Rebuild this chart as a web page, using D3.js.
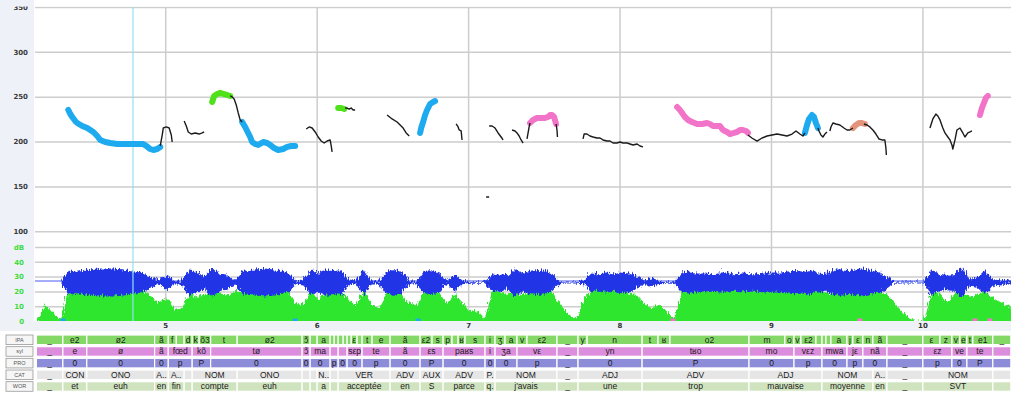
<!DOCTYPE html>
<html><head><meta charset="utf-8">
<script src="https://cdn.jsdelivr.net/npm/d3@7"></script>
<style>
html,body{margin:0;padding:0;background:#fff;}
svg{display:block;font-family:"Liberation Sans",Arial,sans-serif;}
</style></head><body>
<svg id="chart" width="1011" height="396"></svg>
<script>
// ---- axis ticks ----
const pitchTicks = [100, 150, 200, 250, 300, 350];
const dbTicks = [0, 10, 20, 30, 40, 50];
const dbTickLabels = ["0", "10", "20", "30", "40", "dB"];
const timeTicks = [5, 6, 7, 8, 9, 10];
const cursorTime = 4.787;

// ---- intensity (dB) and waveform envelope, sampled every 50 ms from 4.15 s ----
const sampleStart = 4.15;
const sampleStep = 0.05;
const intensityDb = [
  3, 12, 6, 2,
  21, 21, 21, 21, 22, 22, 22, 22, 22, 21, 21,
  18, 13, 17, 9, 10,
  20, 17, 19, 21, 20, 18, 21,
  21, 22, 22, 22, 22, 21, 21,
  13, 12,
  20, 16, 20, 19, 21,
  16, 12,
  22,
  12, 10,
  19, 21, 20,
  13, 12,
  20, 21, 20,
  13,
  19,
  14, 7, 8, 3,
  22, 21, 19, 22, 18, 21, 22, 22, 20,
  12, 6, 2,
  14, 21, 22, 22, 22, 21, 20, 19,
  13, 10, 12, 8, 2,
  22, 22, 22, 22, 22, 21, 22, 22, 22, 21, 22, 22, 22, 22, 22, 21, 22, 22, 22, 20, 19, 20, 21, 22, 22, 21, 21, 19,
  14, 8, 3, 1, 1,
  21, 20, 14, 19, 21, 17, 19, 21, 17, 14, 11, 10
];
const waveAmp = [
  0, 0, 0, 0,
  .7, .7, .75, .8, .85, .85, .85, .8, .75, .7, .6,
  .3, .15, .45, .1, .1,
  .8, .6, .4, .9, .5, .4, .15,
  .7, .75, .8, .85, .8, .75, .6,
  .1, .15,
  .75, .6, .8, .75, .8,
  .15, .1,
  .8,
  .1, .1,
  .7, .8, .7,
  .1, .1,
  .7, .75, .6,
  .1,
  .55,
  .15, .05, .05, .05,
  .5, .55, .4, .85, .6, .7, .75, .7, .5,
  .05, .03, .03,
  .1, .6, .55, .6, .55, .65, .6, .4,
  .1, .3, .1, .05, .05,
  .6, .65, .6, .6, .55, .6, .6, .55, .6, .55, .55, .6, .6, .6, .65, .7, .65, .75, .6, .55, .75, .8, .75, .8, .85, .75, .65, .4,
  .05, .03, .03, .03, .03,
  .8, .5, .45, .5, 1, .2, .3, .75, .25, .15, .1, .1
];

// ---- raw F0 track segments [time s, Hz] ----
const f0Raw = [
  [[4.967,195.1],[4.980,207.3],[4.987,215.1],[5.007,216.3],[5.026,215.1],[5.040,207.3],[5.046,199.5]],
  [[5.125,222.9],[5.139,217.4],[5.152,210.7],[5.172,208.4],[5.198,209.6],[5.224,208.4],[5.244,209.6],[5.257,210.7]],
  [[5.429,250.8],[5.442,249.7],[5.455,247.5],[5.469,240.8],[5.482,231.9],[5.495,224.1],[5.508,221.8]],
  [[5.931,214.0],[5.950,216.3],[5.970,215.1],[5.990,210.7],[6.010,205.1],[6.030,200.6],[6.050,198.4],[6.069,200.6],[6.089,201.8],[6.096,195.1],[6.102,188.4]],
  [[6.188,237.4],[6.201,237.4],[6.214,236.3],[6.228,237.4],[6.241,235.2],[6.254,235.2]],
  [[6.465,229.6],[6.498,225.2],[6.531,221.8],[6.551,218.5],[6.571,215.1],[6.591,209.6],[6.611,206.2]],
  [[6.921,219.6],[6.934,216.3],[6.941,212.9],[6.954,211.8],[6.960,201.8]],
  [[7.119,138.2],[7.139,138.2]],
  [[7.139,217.4],[7.158,217.4],[7.178,215.1],[7.198,209.6],[7.218,205.1],[7.231,201.8]],
  [[7.290,212.9],[7.310,211.8],[7.323,209.6],[7.337,206.2],[7.350,201.8],[7.363,198.4]],
  [[7.389,202.9],[7.396,209.6],[7.403,216.3],[7.409,220.7]],
  [[7.581,219.6],[7.587,212.9],[7.590,205.1]],
  [[7.759,202.9],[7.766,208.4],[7.785,208.4],[7.805,206.2],[7.825,205.1],[7.851,204.0],[7.871,204.0],[7.891,201.8],[7.917,200.6],[7.937,200.6],[7.957,198.4],[7.983,198.4],[8.003,199.5],[8.023,198.4],[8.050,198.4],[8.069,197.3],[8.089,196.2],[8.116,197.3],[8.135,195.1],[8.155,194.0]],
  [[8.848,207.3],[8.874,204.0],[8.908,200.6],[8.941,204.0],[8.974,206.2],[9.007,207.3],[9.040,208.4],[9.073,207.3],[9.106,206.2],[9.139,208.4],[9.165,211.8],[9.191,208.4],[9.211,206.2],[9.224,209.6]],
  [[9.310,215.1],[9.317,211.8],[9.330,207.3],[9.343,205.1],[9.356,208.4],[9.370,210.7]],
  [[9.389,211.8],[9.396,216.3],[9.409,220.7],[9.429,219.6],[9.455,218.5],[9.482,215.1],[9.502,212.9],[9.521,212.9],[9.541,215.1]],
  [[9.614,219.6],[9.634,218.5],[9.653,216.3],[9.673,212.9],[9.693,208.4],[9.713,202.9],[9.733,201.8],[9.752,201.8],[9.759,192.8],[9.762,185.0]],
  [[10.050,215.1],[10.069,225.2],[10.089,230.7],[10.102,228.5],[10.116,224.1],[10.135,215.1],[10.149,209.6],[10.168,205.1],[10.182,201.8],[10.195,196.2],[10.201,191.7],[10.215,201.8],[10.228,212.9],[10.248,215.1],[10.267,209.6],[10.281,205.1],[10.300,209.6],[10.314,210.7],[10.327,211.8]]
];

// ---- stylised pitch movements, by movement class ----
const f0Class = ["B", "G", "B", "G", "B", "P", "P", "B", "S", "P"];
const f0Stylised = [
  [[4.360,235.2],[4.373,230.7],[4.386,227.4],[4.406,222.9],[4.419,220.7],[4.452,217.4],[4.485,215.1],[4.505,212.9],[4.525,210.7],[4.551,206.2],[4.571,201.8],[4.604,199.5],[4.637,198.4],[4.683,197.3],[4.723,197.3],[4.789,197.3],[4.855,197.3],[4.875,195.1],[4.901,191.7],[4.921,190.6],[4.947,191.7],[4.967,194.0]],
  [[5.310,244.1],[5.323,250.8],[5.343,253.0],[5.363,254.2],[5.389,253.0],[5.409,251.9],[5.429,250.8]],
  [[5.508,221.8],[5.528,216.3],[5.541,211.8],[5.561,205.1],[5.574,199.5],[5.594,197.3],[5.614,196.2],[5.647,199.5],[5.673,198.4],[5.693,196.2],[5.719,192.8],[5.746,190.6],[5.779,191.7],[5.805,194.0],[5.832,195.1],[5.858,195.1]],
  [[6.142,237.4],[6.162,237.4],[6.182,236.3]],
  [[6.683,209.6],[6.690,215.1],[6.703,221.8],[6.716,229.6],[6.729,235.2],[6.749,241.9],[6.769,244.1],[6.782,245.2]],
  [[7.409,220.7],[7.429,224.1],[7.455,226.3],[7.482,226.3],[7.508,226.3],[7.528,227.4],[7.541,229.6],[7.554,229.6],[7.568,227.4],[7.581,219.6]],
  [[8.380,238.5],[8.399,235.2],[8.413,231.9],[8.432,227.4],[8.452,224.1],[8.479,221.8],[8.512,219.6],[8.545,219.6],[8.578,220.7],[8.597,219.6],[8.617,217.4],[8.644,217.4],[8.663,217.4],[8.683,212.9],[8.710,210.7],[8.729,208.4],[8.756,209.6],[8.776,210.7],[8.795,212.9],[8.815,212.9],[8.835,211.8],[8.848,209.6]],
  [[9.224,209.6],[9.238,218.5],[9.251,225.2],[9.271,229.6],[9.284,227.4],[9.297,220.7],[9.310,215.1]],
  [[9.541,215.1],[9.561,218.5],[9.581,220.7],[9.601,220.7],[9.620,219.6]],
  [[10.380,229.6],[10.393,237.4],[10.406,243.0],[10.419,248.6],[10.432,250.8]]
];
// boundary markers on the time axis
const markTimes = [4.325, 5.858, 6.670, 8.353, 9.587, 10.347, 10.446];
const markClass = ["B", "B", "B", "P", "P", "P", "P"];

// ---- annotation tiers: [label, start, end] ----
const tierNames = ["IPA", "syl", "PRO", "CAT", "WOR"];
const ipaTier = [
  ["_",4.149,4.324],["e2",4.324,4.482],["ø2",4.482,4.930],["ã",4.930,5.020],["f",5.020,5.073],["œ",5.073,5.125],["d",5.125,5.178],
  ["k",5.178,5.224],["õ3",5.224,5.300],["t",5.300,5.475],["ø2",5.475,5.904],["ɔ̃",5.904,5.957],["m",5.957,6.003],["a",6.003,6.089],
  ["p",6.089,6.116],["a",6.116,6.142],["a",6.142,6.175],["k",6.175,6.201],["s",6.201,6.228],["ε",6.228,6.267],["p",6.267,6.300],
  ["t",6.300,6.366],["e",6.366,6.485],["ã",6.485,6.683],["ε2",6.683,6.762],["s",6.762,6.835],["p",6.835,6.894],["a",6.894,6.934],
  ["ʁ",6.934,6.980],["s",6.980,7.112],["i",7.112,7.178],["ʒ",7.178,7.244],["a",7.244,7.323],["v",7.323,7.389],["ε2",7.389,7.587],
  ["_",7.587,7.726],["y",7.726,7.786],["n",7.786,8.149],["t",8.149,8.254],["ʁ",8.254,8.333],["o2",8.333,8.855],["m",8.855,9.092],
  ["o",9.092,9.152],["v",9.152,9.198],["ε2",9.198,9.297],["z",9.297,9.337],["m",9.337,9.363],["w",9.363,9.396],["a",9.396,9.502],
  ["j",9.502,9.541],["ε",9.541,9.607],["n",9.607,9.673],["ã",9.673,9.766],["_",9.766,10.003],["ε",10.003,10.116],["z",10.116,10.195],
  ["v",10.195,10.248],["e",10.248,10.294],["t",10.294,10.333],["e1",10.333,10.465],["_",10.465,10.584]
];
const sylTier = [
  ["_",4.149,4.324],["e",4.324,4.482],["ø",4.482,4.930],["ã",4.930,5.020],["fœd",5.020,5.178],["kõ",5.178,5.300],["tø",5.300,5.904],
  ["ɔ̃",5.904,5.957],["ma",5.957,6.089],["pa",6.089,6.142],["ak",6.142,6.201],["sεp",6.201,6.300],["te",6.300,6.485],["ã",6.485,6.683],
  ["εs",6.683,6.835],["paʁs",6.835,7.112],["i",7.112,7.178],["ʒa",7.178,7.323],["vε",7.323,7.587],["_",7.587,7.726],["yn",7.726,8.149],
  ["tʁo",8.149,8.855],["mo",8.855,9.152],["vεz",9.152,9.337],["mwa",9.337,9.502],["jε",9.502,9.607],["nã",9.607,9.766],["_",9.766,10.003],
  ["εz",10.003,10.195],["ve",10.195,10.294],["te",10.294,10.465],["",10.465,10.584]
];
const proTier = [
  ["_",4.149,4.324],["0",4.324,4.482],["0",4.482,4.930],["0",4.930,5.020],["p",5.020,5.178],["P",5.178,5.300],["0",5.300,5.904],
  ["0",5.904,5.957],["0",5.957,6.089],["p",6.089,6.142],["0",6.142,6.201],["0",6.201,6.300],["p",6.300,6.485],["0",6.485,6.683],
  ["P",6.683,6.835],["0",6.835,7.112],["0",7.112,7.178],["0",7.178,7.323],["p",7.323,7.587],["_",7.587,7.726],["0",7.726,8.149],
  ["P",8.149,8.855],["0",8.855,9.152],["p",9.152,9.337],["0",9.337,9.502],["p",9.502,9.607],["0",9.607,9.766],["_",9.766,10.003],
  ["p",10.003,10.195],["0",10.195,10.294],["P",10.294,10.465],["",10.465,10.584]
];
const catTier = [
  ["_",4.149,4.324],["CON",4.324,4.482],["ONO",4.482,4.930],["ADV",4.930,5.020],["ADJ",5.020,5.125],["PRP",5.125,5.178],["NOM",5.178,5.475],
  ["ONO",5.475,5.904],["NOM",5.904,5.957],["PRO",5.957,6.003],["NOM",6.003,6.089],["NEG",6.089,6.142],["VER",6.142,6.485],["ADV",6.485,6.683],
  ["AUX",6.683,6.835],["ADV",6.835,7.112],["PRP",7.112,7.178],["NOM",7.178,7.587],["_",7.587,7.726],["ADJ",7.726,8.149],["ADV",8.149,8.855],
  ["ADJ",8.855,9.337],["NOM",9.337,9.673],["ADJ",9.673,9.766],["_",9.766,10.003],["NOM",10.003,10.465],["",10.465,10.584]
];
const worTier = [
  ["_",4.149,4.324],["et",4.324,4.482],["euh",4.482,4.930],["en",4.930,5.020],["fin",5.020,5.125],["de",5.125,5.178],["compte",5.178,5.475],
  ["euh",5.475,5.904],["on",5.904,5.957],["m'",5.957,6.003],["a",6.003,6.089],["pas",6.089,6.142],["acceptée",6.142,6.485],["en",6.485,6.683],
  ["S",6.683,6.835],["parce",6.835,7.112],["que",7.112,7.178],["j'avais",7.178,7.587],["_",7.587,7.726],["une",7.726,8.149],["trop",8.149,8.855],
  ["mauvaise",8.855,9.337],["moyenne",9.337,9.673],["en",9.673,9.766],["_",9.766,10.003],["SVT",10.003,10.465],["",10.465,10.584]
];
const tiers = [ipaTier, sylTier, proTier, catTier, worTier];

// ---- layout ----
const svg = d3.select("#chart");
const W = 1011;
const plotLeft = 35, plotTop = 7, plotBottom = 321;

const x = d3.scaleLinear().domain([4.14, 10.585]).range([plotLeft, W]);
const yPitch = d3.scaleLinear().domain([0, 350]).range([plotBottom, plotTop]);
const yDb = d3.scaleLinear().domain([0, 50]).range([plotBottom, 247]);
const yWave = d3.scaleLinear().domain([-1, 1]).range([297, 265]);
const classColor = d3.scaleOrdinal().domain(["B", "G", "P", "S"])
  .range(["#1eaaef", "#4fe11a", "#f274c9", "#e2957c"]);

const defs = svg.append("defs");
defs.append("clipPath").attr("id", "topclip")
  .append("rect").attr("x", 0).attr("y", 6.5).attr("width", W).attr("height", 330);
defs.append("clipPath").attr("id", "plotclip")
  .append("rect").attr("x", plotLeft).attr("y", plotTop).attr("width", W - plotLeft).attr("height", plotBottom - plotTop);
// ragged edge for the sampled signal envelopes
const rough = defs.append("filter").attr("id", "rough")
  .attr("x", "-0.01").attr("y", "-0.4").attr("width", "1.02").attr("height", "1.8");
rough.append("feTurbulence").attr("type", "turbulence").attr("baseFrequency", "0.9 0.12")
  .attr("numOctaves", 2).attr("seed", 4).attr("result", "n");
rough.append("feDisplacementMap").attr("in", "SourceGraphic").attr("in2", "n")
  .attr("scale", 6).attr("xChannelSelector", "R").attr("yChannelSelector", "G");

// side panel and time strip backgrounds
svg.append("rect").attr("x", 0).attr("y", 0).attr("width", plotLeft - 1).attr("height", 331).attr("fill", "#eef2f8");
svg.append("rect").attr("x", 0).attr("y", plotBottom).attr("width", W).attr("height", 10).attr("fill", "#eef1f6");

const plot = svg.append("g").attr("clip-path", "url(#topclip)");

// grid lines
const gridColor = "#cdcdcd";
plot.append("g").attr("transform", `translate(${plotLeft},0)`)
  .call(d3.axisRight(yPitch).tickValues(pitchTicks).tickSize(W - plotLeft).tickFormat(""))
  .call(g => g.select(".domain").remove())
  .call(g => g.selectAll("line").attr("stroke", gridColor).attr("stroke-width", 1.5));
plot.append("g").attr("transform", `translate(${plotLeft},0)`)
  .call(d3.axisRight(yDb).tickValues(dbTicks.slice(1)).tickSize(W - plotLeft).tickFormat(""))
  .call(g => g.select(".domain").remove())
  .call(g => g.selectAll("line").attr("stroke", gridColor).attr("stroke-width", 1.5));
plot.append("g").attr("transform", `translate(0,${plotTop})`)
  .call(d3.axisBottom(x).tickValues(timeTicks).tickSize(plotBottom - plotTop).tickFormat(""))
  .call(g => g.select(".domain").remove())
  .call(g => g.selectAll("line").attr("stroke", gridColor).attr("stroke-width", 1.5));

// signal layers, kept inside the plotting frame
const signal = plot.append("g").attr("clip-path", "url(#plotclip)");
const sampleTime = (d, i) => sampleStart + i * sampleStep;

// intensity curve
signal.append("path").datum(intensityDb)
  .attr("fill", "#2ee62e").attr("filter", "url(#rough)")
  .attr("d", d3.area().x((d, i) => x(sampleTime(d, i))).y0(yDb(0) + 5).y1(d => yDb(d)));

// waveform
signal.append("line").attr("x1", plotLeft).attr("x2", W).attr("y1", yWave(0)).attr("y2", yWave(0))
  .attr("stroke", "#4a5af0").attr("stroke-width", 1);
signal.append("path").datum(waveAmp)
  .attr("fill", "#2436e6").attr("filter", "url(#rough)")
  .attr("d", d3.area().x((d, i) => x(sampleTime(d, i))).y0(d => yWave(-d)).y1(d => yWave(d)));

// cursor
plot.append("line").attr("x1", x(cursorTime)).attr("x2", x(cursorTime))
  .attr("y1", plotTop).attr("y2", plotBottom).attr("stroke", "#8fe3f5").attr("stroke-width", 1.2);

// axis labels
const labelFont = "'DejaVu Sans',sans-serif";
const pitchAxis = plot.append("g").attr("transform", "translate(28,0)")
  .call(d3.axisLeft(yPitch).tickValues(pitchTicks).tickSize(0).tickPadding(0))
  .call(g => g.select(".domain").remove());
pitchAxis.selectAll("text").attr("fill", "#3a3a3a").attr("font-size", 7).attr("font-weight", "bold")
  .attr("font-family", labelFont);
const dbAxis = plot.append("g").attr("transform", "translate(24,0)")
  .call(d3.axisLeft(yDb).tickValues(dbTicks).tickSize(0).tickPadding(0).tickFormat((d, i) => dbTickLabels[i]))
  .call(g => g.select(".domain").remove());
dbAxis.selectAll("text").attr("fill", "#3ddc3d").attr("font-size", 7).attr("font-weight", "bold")
  .attr("font-family", labelFont);
const timeAxis = svg.append("g").attr("transform", `translate(0,${plotBottom + 1})`)
  .call(d3.axisBottom(x).tickValues(timeTicks).tickSize(0).tickPadding(1).tickFormat(d3.format("d")))
  .call(g => g.select(".domain").remove());
timeAxis.selectAll("text").attr("fill", "#333").attr("font-size", 7).attr("font-weight", "bold")
  .attr("font-family", labelFont);

// boundary markers
plot.selectAll("rect.mark").data(markTimes).join("rect").attr("class", "mark")
  .attr("x", d => x(d) - 2.5).attr("y", plotBottom - 2.5).attr("width", 5).attr("height", 2.5)
  .attr("fill", (d, i) => classColor(markClass[i]));

// F0
const line = d3.line().x(d => x(d[0])).y(d => yPitch(d[1]));
plot.selectAll("path.styl").data(f0Stylised).join("path").attr("class", "styl")
  .attr("d", line).attr("fill", "none")
  .attr("stroke", (d, i) => classColor(f0Class[i]))
  .attr("stroke-width", 6).attr("stroke-linecap", "round").attr("stroke-linejoin", "round");
plot.selectAll("path.raw").data(f0Raw).join("path").attr("class", "raw")
  .attr("d", line).attr("fill", "none").attr("stroke", "#1b1b1b")
  .attr("stroke-width", 1.4).attr("stroke-linejoin", "round");

// tiers
const tierFill = ["#84d966", "#dd8ddd", "#8c8cd9", "#e6e6e6", "#cfe3bf"];
const rowTop = i => 335 + i * 11.67;
const rowH = 9.6;

function fitText(sel, label, w) {
  const chars = Array.from(label);
  sel.text(label);
  if (sel.node().getComputedTextLength() <= w) return;
  for (let k = chars.length - 1; k >= 1; k--) {
    sel.text(chars.slice(0, k).join("") + "..");
    if (sel.node().getComputedTextLength() <= w) return;
  }
  sel.text(chars[0] + ".");
  if (sel.node().getComputedTextLength() <= w) return;
  sel.text("");
}

tiers.forEach((tier, ti) => {
  const g = svg.append("g");
  const y0 = rowTop(ti);
  g.append("rect").attr("x", 6).attr("y", y0).attr("width", 27).attr("height", rowH)
    .attr("fill", "#f6f6f6").attr("stroke", "#9a9a9a").attr("stroke-width", 0.8);
  g.append("text").attr("x", 19.5).attr("y", y0 + rowH / 2 + 2).attr("text-anchor", "middle")
    .attr("font-size", 5.5).attr("fill", "#555").text(tierNames[ti]);
  const cells = g.selectAll("g.cell").data(tier).join("g").attr("class", "cell");
  cells.append("rect")
    .attr("x", d => x(d[1])).attr("y", y0)
    .attr("width", d => Math.max(0, x(d[2]) - x(d[1]))).attr("height", rowH)
    .attr("fill", tierFill[ti]).attr("stroke", "#ffffff").attr("stroke-width", 1.2);
  cells.append("text")
    .attr("x", d => (x(d[1]) + x(d[2])) / 2).attr("y", y0 + rowH / 2 + 3)
    .attr("text-anchor", "middle").attr("font-size", 8.5).attr("fill", "#1a1a1a")
    .each(function (d) { fitText(d3.select(this), d[0], x(d[2]) - x(d[1]) - 2); });
});
</script>
</body></html>
